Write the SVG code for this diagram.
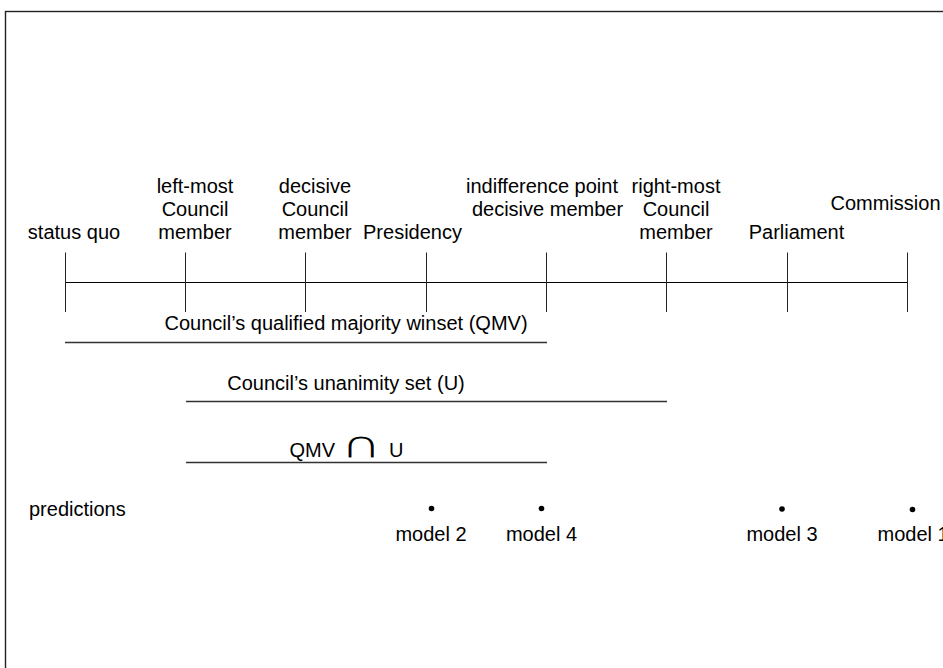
<svg xmlns="http://www.w3.org/2000/svg" width="943" height="668" viewBox="0 0 943 668">
<style>
text{font-family:"Liberation Sans",Arial,Helvetica,sans-serif;font-size:20px;fill:#000}
.m{text-anchor:middle}
.sym{font-family:"DejaVu Sans",sans-serif;font-size:38px;stroke:#fff;stroke-width:1.2}
.ln{stroke:#000;stroke-width:1;fill:none}
.tk{stroke:#222;stroke-width:1;fill:none}
.set{stroke:#333;stroke-width:1.3;fill:none}
</style>
<rect id="frame" x="5.5" y="11.5" width="1000" height="1000" fill="#fff" stroke="#222" stroke-width="1.4"/>
<g id="axis">
<line class="ln" x1="65" y1="282.5" x2="908" y2="282.5"/>
<g id="ticks">
<line class="tk" x1="65.5" y1="252.5" x2="65.5" y2="312"/>
<line class="tk" x1="185.5" y1="252.5" x2="185.5" y2="312"/>
<line class="tk" x1="305.5" y1="252.5" x2="305.5" y2="312"/>
<line class="tk" x1="426.5" y1="252.5" x2="426.5" y2="312"/>
<line class="tk" x1="546.5" y1="252.5" x2="546.5" y2="312"/>
<line class="tk" x1="666.5" y1="252.5" x2="666.5" y2="312"/>
<line class="tk" x1="787.5" y1="252.5" x2="787.5" y2="312"/>
<line class="tk" x1="907.5" y1="252.5" x2="907.5" y2="312"/>
</g>
</g>
<g id="status-quo"><text class="m" x="74" y="239">status quo</text></g>
<g id="left-most"><text class="m" x="195" y="193">left-most</text><text class="m" x="195" y="216">Council</text><text class="m" x="195" y="239">member</text></g>
<g id="decisive"><text class="m" x="315" y="193">decisive</text><text class="m" x="315" y="216">Council</text><text class="m" x="315" y="239">member</text></g>
<g id="presidency"><text class="m" x="412.5" y="239">Presidency</text></g>
<g id="indifference"><text class="m" x="542" y="193">indifference point</text><text class="m" x="547.5" y="216">decisive member</text></g>
<g id="right-most"><text class="m" x="676" y="193">right-most</text><text class="m" x="676" y="216">Council</text><text class="m" x="676" y="239">member</text></g>
<g id="parliament"><text class="m" x="796.5" y="239">Parliament</text></g>
<g id="commission"><text class="m" x="885.5" y="210">Commission</text></g>
<g id="qmv"><text class="m" x="346" y="330">Council’s qualified majority winset (QMV)</text><line class="set" x1="65" y1="342.5" x2="547" y2="342.5"/></g>
<g id="unanimity"><text class="m" x="346" y="390">Council’s unanimity set (U)</text><line class="set" x1="186" y1="401.5" x2="667" y2="401.5"/></g>
<g id="intersection"><text x="289.5" y="456.5">QMV</text><text class="m sym" transform="translate(361,457.5) scale(1.5,1)">∩</text><text x="389" y="456.5">U</text><line class="set" x1="186" y1="462.5" x2="547" y2="462.5"/></g>
<g id="predictions"><text x="29" y="516">predictions</text></g>
<g id="model2"><circle cx="431.5" cy="508.5" r="2.8"/><text class="m" x="431" y="541">model 2</text></g>
<g id="model4"><circle cx="541.5" cy="508.5" r="2.8"/><text class="m" x="541.5" y="541">model 4</text></g>
<g id="model3"><circle cx="782" cy="509" r="2.8"/><text class="m" x="782" y="541">model 3</text></g>
<g id="model1"><circle cx="912.5" cy="509.5" r="2.8"/><text x="877.5" y="541">model 1</text></g>
</svg>
